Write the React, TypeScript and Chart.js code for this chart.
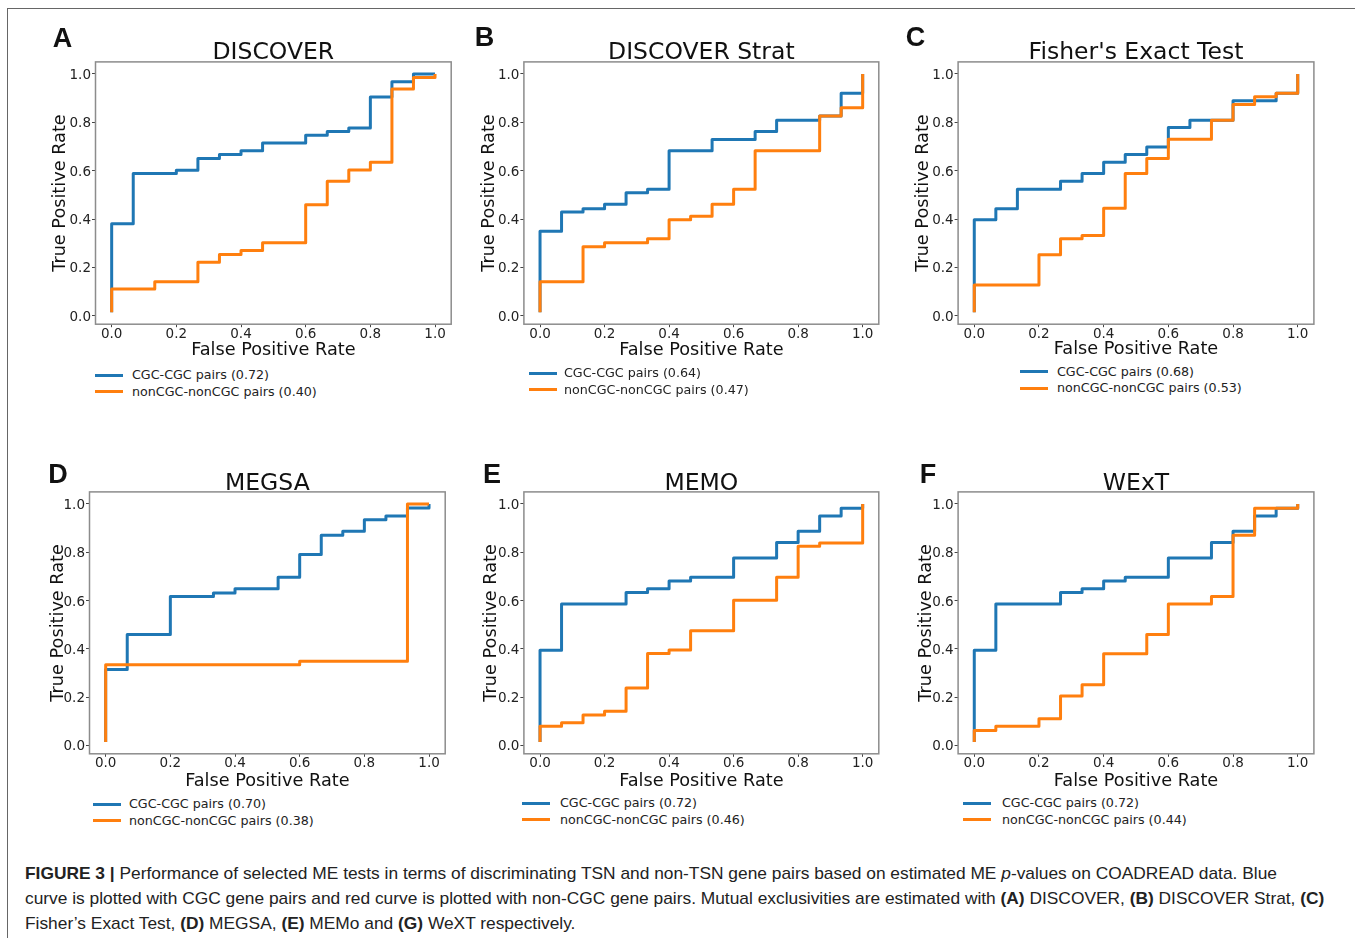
import React, { useEffect, useRef } from "react";
import { Chart, registerables } from "chart.js";
Chart.register(...registerables);

// ---------- data ----------
const tickValues = [0, 0.2, 0.4, 0.6, 0.8, 1.0];
const seriesNames = ["CGC-CGC pairs", "nonCGC-nonCGC pairs"];
const panelTitles = ["DISCOVER", "DISCOVER Strat", "Fisher's Exact Test", "MEGSA", "MEMO", "WExT"];
const panelLetters = ["A", "B", "C", "D", "E", "F"];
const cgcAuc = ["0.72", "0.64", "0.68", "0.70", "0.72", "0.72"];
const nonAuc = ["0.40", "0.47", "0.53", "0.38", "0.46", "0.44"];

// A DISCOVER
const discoverCgcFpr = [0, 0, 0.0667, 0.2, 0.2667, 0.3333, 0.4, 0.4667, 0.6, 0.6667, 0.7333, 0.8, 0.8667, 0.9333, 1.0];
const discoverCgcTpr = [0.014, 0.38, 0.588, 0.602, 0.65, 0.667, 0.682, 0.715, 0.747, 0.762, 0.777, 0.905, 0.968, 1.0, 1.0];
const discoverNonFpr = [0, 0, 0.1333, 0.2667, 0.3333, 0.4, 0.4667, 0.6, 0.6667, 0.7333, 0.8, 0.8667, 0.9333, 1.0];
const discoverNonTpr = [0.014, 0.111, 0.141, 0.221, 0.253, 0.27, 0.302, 0.459, 0.556, 0.603, 0.635, 0.938, 0.985, 1.0];

// B DISCOVER Strat
const stratCgcFpr = [0, 0, 0.0667, 0.1333, 0.2, 0.2667, 0.3333, 0.4, 0.5333, 0.6667, 0.7333, 0.8667, 0.9333, 1.0, 1.0];
const stratCgcTpr = [0.014, 0.349, 0.429, 0.443, 0.461, 0.509, 0.523, 0.682, 0.729, 0.762, 0.809, 0.826, 0.92, 0.92, 1.0];
const stratNonFpr = [0, 0, 0.1333, 0.2, 0.3333, 0.4, 0.4667, 0.5333, 0.6, 0.6667, 0.8667, 0.9333, 1.0];
const stratNonTpr = [0.014, 0.141, 0.285, 0.302, 0.318, 0.397, 0.412, 0.461, 0.523, 0.682, 0.826, 0.86, 1.0];

// C Fisher's Exact Test
const fisherCgcFpr = [0, 0, 0.0667, 0.1333, 0.2667, 0.3333, 0.4, 0.4667, 0.5333, 0.6, 0.6667, 0.8, 0.9333, 1.0, 1.0];
const fisherCgcTpr = [0.014, 0.397, 0.443, 0.523, 0.556, 0.588, 0.635, 0.667, 0.698, 0.779, 0.809, 0.889, 0.92, 0.92, 1.0];
const fisherNonFpr = [0, 0, 0.2, 0.2667, 0.3333, 0.4, 0.4667, 0.5333, 0.6, 0.7333, 0.8, 0.8667, 0.9333, 1.0];
const fisherNonTpr = [0.014, 0.127, 0.252, 0.318, 0.332, 0.445, 0.588, 0.65, 0.73, 0.809, 0.874, 0.906, 0.92, 1.0];

// D MEGSA
const megsaCgcFpr = [0, 0, 0.0667, 0.2, 0.3333, 0.4, 0.5333, 0.6, 0.6667, 0.7333, 0.8, 0.8667, 0.9333, 1.0, 1.0];
const megsaCgcTpr = [0.014, 0.314, 0.459, 0.617, 0.631, 0.649, 0.696, 0.791, 0.87, 0.887, 0.935, 0.95, 0.983, 0.983, 1.0];
const megsaNonFpr = [0, 0, 0.6, 0.9333, 1.0];
const megsaNonTpr = [0.014, 0.334, 0.348, 1.0, 1.0];

// E MEMO
const memoCgcFpr = [0, 0, 0.0667, 0.2667, 0.3333, 0.4, 0.4667, 0.6, 0.7333, 0.8, 0.8667, 0.9333, 1.0, 1.0];
const memoCgcTpr = [0.014, 0.394, 0.586, 0.633, 0.649, 0.681, 0.696, 0.776, 0.84, 0.887, 0.95, 0.982, 0.982, 1.0];
const memoNonFpr = [0, 0, 0.0667, 0.1333, 0.2, 0.2667, 0.3333, 0.4, 0.4667, 0.6, 0.7333, 0.8, 0.8667, 1.0];
const memoNonTpr = [0.014, 0.079, 0.094, 0.126, 0.141, 0.238, 0.381, 0.395, 0.475, 0.601, 0.696, 0.825, 0.838, 1.0];

// F WExT
const wextCgcFpr = [0, 0, 0.0667, 0.2667, 0.3333, 0.4, 0.4667, 0.6, 0.7333, 0.8, 0.8667, 0.9333, 1.0, 1.0];
const wextCgcTpr = [0.014, 0.394, 0.586, 0.633, 0.649, 0.681, 0.696, 0.776, 0.84, 0.887, 0.95, 0.982, 0.982, 1.0];
const wextNonFpr = [0, 0, 0.0667, 0.2, 0.2667, 0.3333, 0.4, 0.5333, 0.6, 0.7333, 0.8, 0.8667, 1.0, 1.0];
const wextNonTpr = [0.014, 0.062, 0.079, 0.11, 0.204, 0.251, 0.38, 0.459, 0.586, 0.617, 0.87, 0.982, 0.982, 1.0];

const curves = [
  [discoverCgcFpr, discoverCgcTpr, discoverNonFpr, discoverNonTpr],
  [stratCgcFpr, stratCgcTpr, stratNonFpr, stratNonTpr],
  [fisherCgcFpr, fisherCgcTpr, fisherNonFpr, fisherNonTpr],
  [megsaCgcFpr, megsaCgcTpr, megsaNonFpr, megsaNonTpr],
  [memoCgcFpr, memoCgcTpr, memoNonFpr, memoNonTpr],
  [wextCgcFpr, wextCgcTpr, wextNonFpr, wextNonTpr],
];

// ---------- layout (page px) ----------
type Layout = {
  l: number; r: number; t: number; b: number;
  yTitleX: number; xTitleY: number; titleY: number;
  letterX: number; letterY: number;
  legX: number; legY: number; textX: number;
};
const layouts: Layout[] = [
  { l: 95.5, r: 451.2, t: 61.9, b: 324.2, yTitleX: 60.5, xTitleY: 350.5, titleY: 51, letterX: 62.5, letterY: 38, legX: 95, legY: 375, textX: 132 },
  { l: 523.9, r: 878.8, t: 61.9, b: 324.2, yTitleX: 489.5, xTitleY: 350, titleY: 51, letterX: 484.5, letterY: 37, legX: 529, legY: 373, textX: 564 },
  { l: 958.1, r: 1313.9, t: 61.9, b: 324.2, yTitleX: 923.5, xTitleY: 349, titleY: 51, letterX: 915.5, letterY: 37, legX: 1020, legY: 371.7, textX: 1057 },
  { l: 89.5, r: 445.2, t: 491.9, b: 753.8, yTitleX: 58.5, xTitleY: 781, titleY: 482, letterX: 58, letterY: 474, legX: 93, legY: 804, textX: 129 },
  { l: 523.9, r: 878.8, t: 491.9, b: 753.8, yTitleX: 491.5, xTitleY: 781, titleY: 482, letterX: 492, letterY: 474, legX: 522, legY: 803, textX: 560 },
  { l: 958.1, r: 1313.9, t: 491.9, b: 753.8, yTitleX: 926.5, xTitleY: 781, titleY: 482, letterX: 928, letterY: 474, legX: 963, legY: 803, textX: 1002 },
];

const BLUE = "#1f77b4";
const ORANGE = "#ff7f0e";
const SANS = "'DejaVu Sans', sans-serif";
const AXIS_FONT = 17.7;
const TICK_FONT = 13.5;

const framePlugin = {
  id: "frame",
  afterDatasetsDraw(chart: any) {
    const { ctx, chartArea: a } = chart;
    ctx.save();
    ctx.strokeStyle = "#8c8c8c";
    ctx.lineWidth = 1.5;
    ctx.strokeRect(a.left, a.top, a.right - a.left, a.bottom - a.top);
    ctx.restore();
  },
};

function RocPanel({ idx }: { idx: number }) {
  const ref = useRef<HTMLCanvasElement>(null);
  const s = layouts[idx];
  const CL = Math.round(s.l) - 58;
  const CT = Math.round(s.t) - 14;
  const CR = Math.round(s.r) + 16;
  const CB = Math.round(s.xTitleY) + 14;
  const W = CR - CL;
  const H = CB - CT;

  useEffect(() => {
    const [cf, ct, nf, nt] = curves[idx];
    const yW = s.l - CL;
    const xH = CB - s.b;
    const lh = AXIS_FONT * 1.2;
    const tickBase = {
      autoSkip: false,
      maxRotation: 0,
      minRotation: 0,
      color: "#222",
      callback: (v: any) => Number(v).toFixed(1),
    };
    const xGrid = { display: true, drawOnChartArea: false, drawTicks: true, tickLength: 3, color: "#444", lineWidth: 1 };
    const yGrid = { display: true, drawOnChartArea: false, drawTicks: true, tickLength: 3.5, color: "#444", lineWidth: 1 };
    const chart = new Chart(ref.current as HTMLCanvasElement, {
      type: "line",
      data: {
        datasets: [
          {
            label: seriesNames[0],
            data: cf.map((x, i) => ({ x, y: ct[i] })),
            borderColor: BLUE,
            borderWidth: 3,
            stepped: "before",
            pointRadius: 0,
            fill: false,
            borderJoinStyle: "round",
            order: 2,
          },
          {
            label: seriesNames[1],
            data: nf.map((x, i) => ({ x, y: nt[i] })),
            borderColor: ORANGE,
            borderWidth: 3,
            stepped: "before",
            pointRadius: 0,
            fill: false,
            borderJoinStyle: "round",
            order: 1,
          },
        ],
      },
      options: {
        responsive: false,
        animation: false,
        layout: { autoPadding: false, padding: { left: 0, top: s.t - CT, right: CR - s.r, bottom: 0 } },
        plugins: { legend: { display: false }, tooltip: { enabled: false }, title: { display: false } },
        scales: {
          x: {
            type: "linear",
            min: -0.05,
            max: 1.05,
            afterBuildTicks: (ax: any) => { ax.ticks = tickValues.map((v) => ({ value: v })); },
            afterFit: (ax: any) => { ax.height = xH; },
            ticks: { ...tickBase, padding: 1.5, font: { family: SANS, size: TICK_FONT, lineHeight: 0.8 } },
            grid: xGrid,
            border: { display: false },
            title: {
              display: true,
              text: "False Positive Rate",
              color: "#111",
              font: { family: SANS, size: AXIS_FONT, lineHeight: 1.2 },
              padding: { top: 0, bottom: CB - s.xTitleY - lh / 2 },
            },
          },
          y: {
            type: "linear",
            min: -0.035,
            max: 1.05,
            afterBuildTicks: (ax: any) => { ax.ticks = tickValues.map((v) => ({ value: v })); },
            afterFit: (ax: any) => { ax.width = yW; },
            ticks: { ...tickBase, padding: 1, labelOffset: 1.5, font: { family: SANS, size: TICK_FONT, lineHeight: 1.0 } },
            grid: yGrid,
            border: { display: false },
            title: {
              display: true,
              text: "True Positive Rate",
              color: "#111",
              font: { family: SANS, size: AXIS_FONT, lineHeight: 1.2 },
              padding: { top: s.yTitleX - CL - lh / 2, bottom: 0 },
            },
          },
        },
      } as any,
      plugins: [framePlugin],
    });
    return () => chart.destroy();
  }, []);

  const rowGap = 16.5;
  return (
    <>
      <canvas
        ref={ref}
        width={W}
        height={H}
        style={{ position: "absolute", left: CL, top: CT, width: W, height: H }}
      />
      <div
        style={{
          position: "absolute", left: s.l, width: s.r - s.l, top: s.titleY - 14, lineHeight: "28px",
          textAlign: "center", fontFamily: SANS, fontSize: 23.5, color: "#111", whiteSpace: "nowrap",
        }}
      >
        {panelTitles[idx]}
      </div>
      <div
        style={{
          position: "absolute", left: s.letterX - 20, width: 40, top: s.letterY - 16, lineHeight: "32px",
          textAlign: "center", fontFamily: "'Liberation Sans', Arial, sans-serif", fontWeight: "bold",
          fontSize: 27, color: "#111",
        }}
      >
        {panelLetters[idx]}
      </div>
      {[0, 1].map((k) => (
        <React.Fragment key={k}>
          <div
            style={{
              position: "absolute", left: s.legX, width: 28, top: s.legY + k * rowGap - 1.5, height: 3,
              background: k === 0 ? BLUE : ORANGE,
            }}
          />
          <div
            style={{
              position: "absolute", left: s.textX, top: s.legY + k * rowGap - 8, lineHeight: "16px",
              fontFamily: SANS, fontSize: 12.7, color: "#222", whiteSpace: "nowrap",
            }}
          >
            {`${seriesNames[k]} (${k === 0 ? cgcAuc[idx] : nonAuc[idx]})`}
          </div>
        </React.Fragment>
      ))}
    </>
  );
}

const capStyle: React.CSSProperties = {
  position: "absolute",
  left: 25,
  whiteSpace: "nowrap",
  fontFamily: "'Liberation Sans', Arial, sans-serif",
  fontSize: 17.35,
  lineHeight: "24px",
  color: "#222",
};

export default function App() {
  return (
    <div
      style={{
        position: "absolute", left: 0, top: 0, width: 1355, height: 938, background: "#fff", overflow: "hidden",
      }}
    >
      <div
        style={{
          position: "absolute", left: 7, top: 8, width: 1360, height: 940,
          borderLeft: "1.5px solid #666", borderTop: "1.5px solid #666",
        }}
      />
      {layouts.map((_, i) => (
        <RocPanel key={i} idx={i} />
      ))}
      <div style={{ ...capStyle, top: 861 }}>
        <b>FIGURE 3 |</b> Performance of selected ME tests in terms of discriminating TSN and non-TSN gene pairs based on estimated ME <i>p</i>-values on COADREAD data. Blue
      </div>
      <div style={{ ...capStyle, top: 886 }}>
        curve is plotted with CGC gene pairs and red curve is plotted with non-CGC gene pairs. Mutual exclusivities are estimated with <b>(A)</b> DISCOVER, <b>(B)</b> DISCOVER Strat, <b>(C)</b>
      </div>
      <div style={{ ...capStyle, top: 911 }}>
        Fisher’s Exact Test, <b>(D)</b> MEGSA, <b>(E)</b> MEMo and <b>(G)</b> WeXT respectively.
      </div>
    </div>
  );
}
